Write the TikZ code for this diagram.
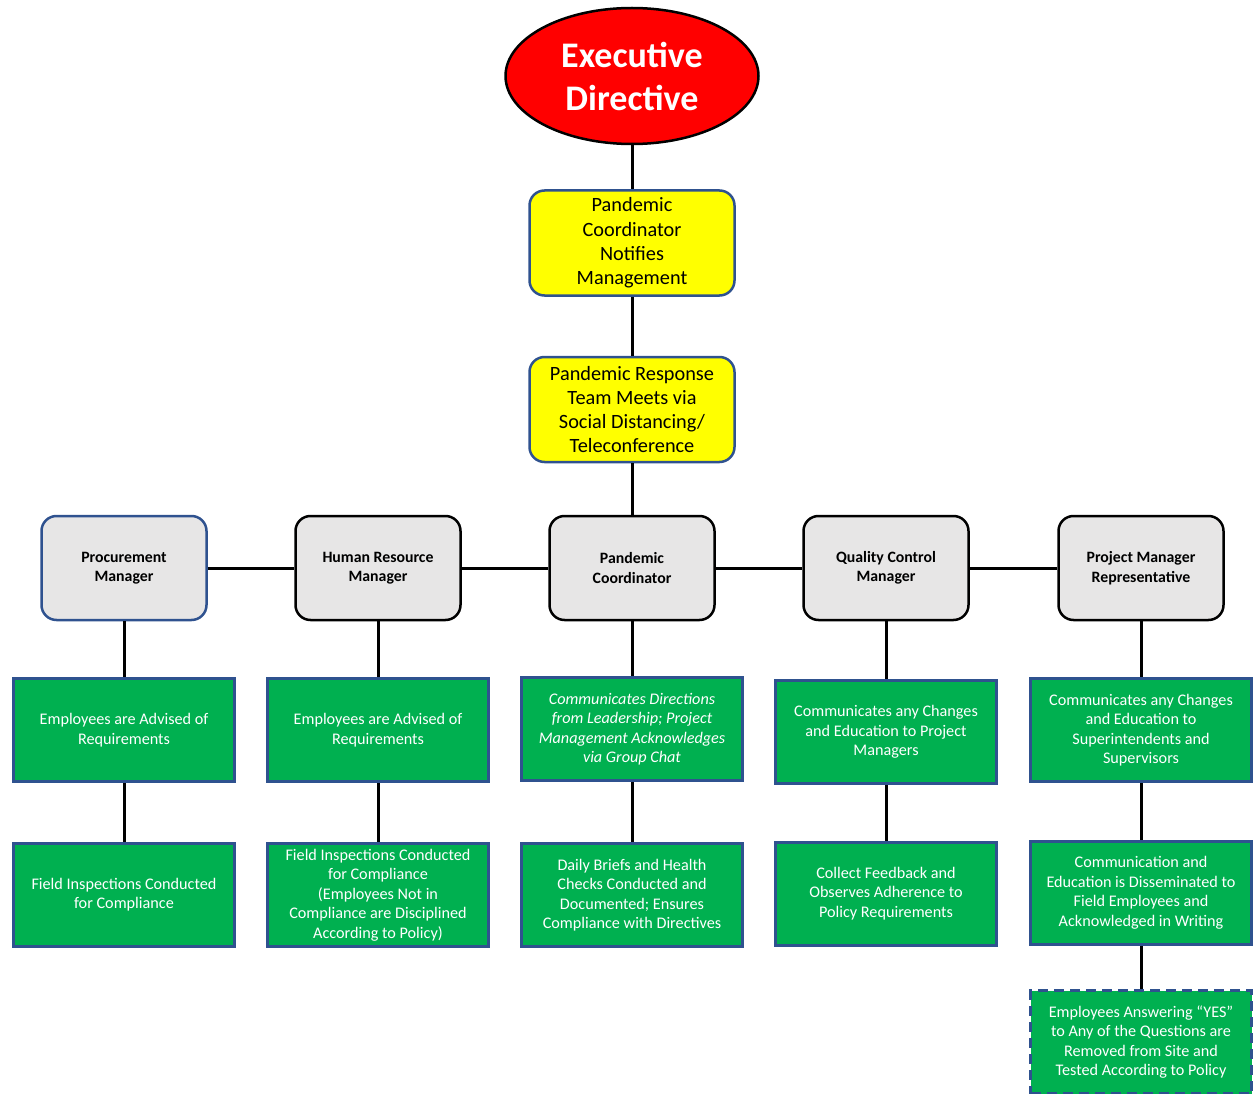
\documentclass[tikz,border=0pt]{standalone}
\usepackage{fontspec}
\setmainfont{Carlito}
\usetikzlibrary{shapes,arrows}
\definecolor{execred}{HTML}{FF0000}
\definecolor{noteyellow}{HTML}{FFFF00}
\definecolor{edgeblue}{HTML}{2F528F}
\definecolor{mgrgray}{HTML}{E7E6E6}
\definecolor{taskgreen}{HTML}{00B050}
\tikzstyle{exec} = [draw, ellipse, fill=execred, line width=2.5pt, minimum width=253pt, minimum height=136pt, inner sep=0pt, text=white, font=\fontsize{36}{43}\selectfont\bfseries, align=center]
\tikzstyle{notice} = [draw=edgeblue, fill=noteyellow, rectangle, rounded corners=15pt, line width=2.5pt, minimum width=205pt, minimum height=105pt, font=\fontsize{20.3}{24.3}\selectfont, align=center]
\tikzstyle{manager} = [draw, fill=mgrgray, rectangle, rounded corners=15pt, line width=2.5pt, minimum width=165pt, minimum height=104pt, font=\fontsize{15.8}{19.5}\selectfont\bfseries, align=center]
\tikzstyle{task} = [draw=edgeblue, fill=taskgreen, rectangle, line width=3pt, minimum width=221pt, minimum height=103pt, text=white, font=\fontsize{16.2}{19.5}\selectfont, align=center]
\tikzstyle{link} = [draw, line width=3pt]

\begin{document}
\begin{tikzpicture}[x=1pt,y=-1pt]
	\useasboundingbox (0,0) rectangle (1256,1094);

	% top of the chart
	\node [exec] (exec) at (632,76) {Executive\\Directive};
	\node [notice,below of=exec,node distance=167pt] (notify) {Pandemic\\Coordinator\\Notifies\\Management};
	\node [notice,below of=notify,node distance=166.5pt] (meet) {Pandemic Response\\Team Meets via\\Social Distancing/\\Teleconference};

	% the managers
	\node [manager,below of=meet,node distance=158.5pt] (pc) {Pandemic\\Coordinator};
	\node [manager,left of=pc,node distance=254pt] (hr) {Human Resource\\Manager};
	\node [manager,draw=edgeblue,left of=hr,node distance=254pt] (pm) {Procurement\\Manager};
	\node [manager,right of=pc,node distance=254pt] (qc) {Quality Control\\Manager};
	\node [manager,right of=qc,node distance=255pt] (pmr) {Project Manager\\Representative};

	% first row of tasks
	\node [task,below of=pm,node distance=162pt] (pm1) {Employees are Advised of\\Requirements};
	\node [task,below of=hr,node distance=162pt] (hr1) {Employees are Advised of\\Requirements};
	\node [task,below of=pc,node distance=161pt,font=\fontsize{16.2}{19.5}\selectfont\itshape] (pc1) {Communicates Directions\\from Leadership; Project\\Management Acknowledges\\via Group Chat};
	\node [task,below of=qc,node distance=164pt] (qc1) {Communicates any Changes\\and Education to Project\\Managers};
	\node [task,below of=pmr,node distance=162pt] (pmr1) {Communicates any Changes\\and Education to\\Superintendents and\\Supervisors};

	% second row of tasks
	\node [task,below of=pm1,node distance=164.5pt] (pm2) {Field Inspections Conducted\\for Compliance};
	\node [task,below of=hr1,node distance=165pt] (hr2) {Field Inspections Conducted\\for Compliance\\(Employees Not in\\Compliance are Disciplined\\According to Policy)};
	\node [task,below of=pc1,node distance=166pt] (pc2) {Daily Briefs and Health\\Checks Conducted and\\Documented; Ensures\\Compliance with Directives};
	\node [task,below of=qc1,node distance=161.5pt] (qc2) {Collect Feedback and\\Observes Adherence to\\Policy Requirements};
	\node [task,below of=pmr1,node distance=163pt] (pmr2) {Communication and\\Education is Disseminated to\\Field Employees and\\Acknowledged in Writing};
	\node [task,dash pattern=on 10pt off 6pt,below of=pmr2,node distance=149pt] (pmr3) {Employees Answering “YES”\\to Any of the Questions are\\Removed from Site and\\Tested According to Policy};

	% the trunk
	\draw [link] (exec) -- (notify);
	\draw [link] (notify) -- (meet);
	\draw [link] (meet) -- (pc);

	% across the managers
	\draw [link] (pm) -- (hr);
	\draw [link] (hr) -- (pc);
	\draw [link] (pc) -- (qc);
	\draw [link] (qc) -- (pmr);

	% down each column
	\draw [link] (pm) -- (pm1) -- (pm2);
	\draw [link] (hr) -- (hr1) -- (hr2);
	\draw [link] (pc) -- (pc1) -- (pc2);
	\draw [link] (qc) -- (qc1) -- (qc2);
	\draw [link] (pmr) -- (pmr1) -- (pmr2) -- (pmr3);

\end{tikzpicture}
\end{document}
